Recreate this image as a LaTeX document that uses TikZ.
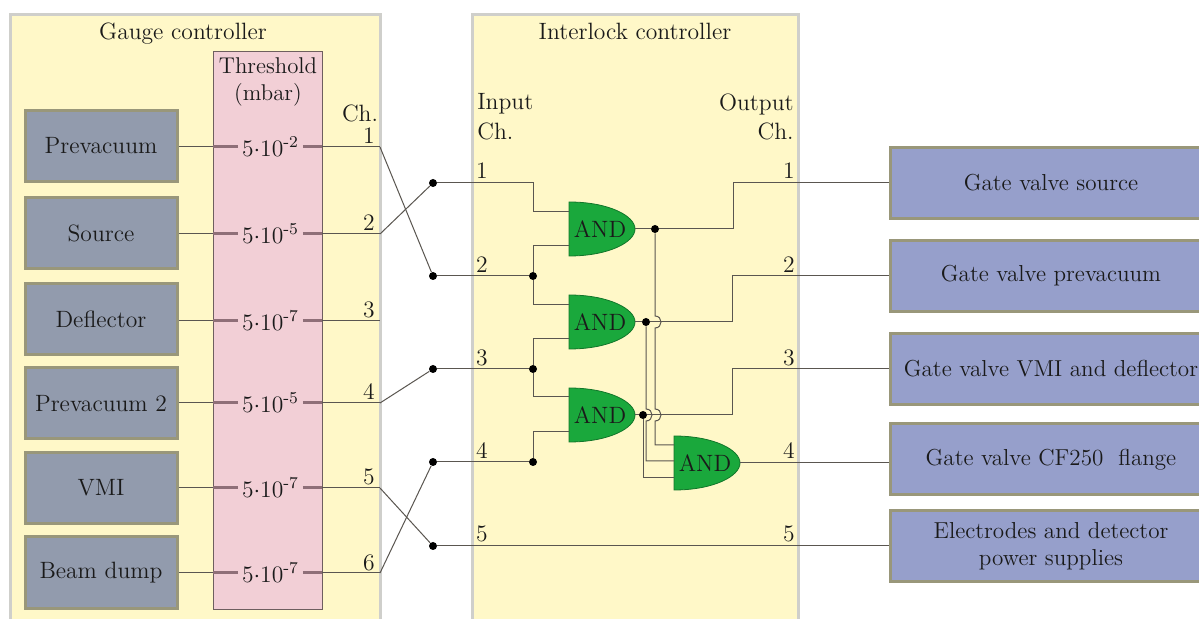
\documentclass[tikz,border=0pt]{standalone}
\definecolor{panelfill}{HTML}{FFF8C8}
\definecolor{panelline}{HTML}{CFCFCB}
\definecolor{pinkfill}{HTML}{F2CFD6}
\definecolor{pinkline}{HTML}{6E5F5F}
\definecolor{grayfill}{HTML}{929BAD}
\definecolor{grayline}{HTML}{99977A}
\definecolor{bluefill}{HTML}{969FCB}
\definecolor{gatefill}{HTML}{1AA83C}
\definecolor{wire}{HTML}{5A5650}
\definecolor{thickwire}{HTML}{8F6F78}
\definecolor{inkc}{HTML}{1A1A1A}
\tikzset{
  x=0.5pt,y=-0.5pt,
  every node/.style={font=\fontsize{11.8}{13.5}\selectfont,text=inkc},
  sensor/.style={draw=grayline,fill=grayfill,line width=1.5pt,minimum width=76pt,minimum height=35.5pt,inner sep=0pt},
  valve/.style={draw=grayline,fill=bluefill,line width=1.5pt,minimum width=161pt,minimum height=35.5pt,inner sep=0pt,align=center,font=\fontsize{11.55}{13.5}\selectfont},
  wireline/.style={draw=wire,line width=0.5pt},
  thickline/.style={draw=thickwire,line width=1.5pt},
  value/.style={inner sep=0pt,minimum width=32pt,minimum height=10pt},
  lbl/.style={inner sep=0pt},
  junction/.style={circle,fill=black,inner sep=0pt,minimum size=4pt},
  gate/.style={fill=gatefill,draw=gatefill!70!black,line width=0.4pt},
}
\newcommand{\andgate}[3]{% name, left x, centre y
  \path[gate] (#2,#3-27) .. controls (#2+40,#3-27) and (#2+66,#3-13) .. (#2+66,#3)
     .. controls (#2+66,#3+13) and (#2+40,#3+27) .. (#2,#3+27) -- cycle;
  \node[lbl] (#1) at (#2+31,#3) {AND};
  \coordinate (#1out) at (#2+66,#3);
}
\newcommand{\hop}[2]{.. controls (#1+8,#2-6) and (#1+8,#2+6) .. (#1,#2+6)}
\begin{document}
\begin{tikzpicture}
\useasboundingbox (0,0) rectangle (1199,619);
\clip (0,0) rectangle (1199,619);
\fill[white] (0,0) rectangle (1199,619);
% panels
\fill[panelfill] (10,15) rectangle (380,619);
\draw[panelline,line width=1.5pt] (10,625) -- (10,15) -- (380,15) -- (380,625);
\fill[panelfill] (472,15) rectangle (798,619);
\draw[panelline,line width=1.5pt] (472,625) -- (472,15) -- (798,15) -- (798,625);
\node[lbl,anchor=base] (gctitle) at (183,40) {Gauge controller};
\node[lbl,anchor=base] (ictitle) at (635,40) {Interlock controller};
% threshold
\node[draw=pinkline,fill=pinkfill,line width=0.5pt,minimum width=54.5pt,minimum height=278.5pt,inner sep=0pt] (thr) at (267.5,330.5) {};
\node[lbl,align=center,font=\fontsize{11.4}{13.5}\selectfont] (thrt) at (268,82) {Threshold\\(mbar)};
% sensors
\node[sensor] (b1) at (101,146) {Prevacuum};
\node[sensor] (b2) at (101,233.5) {Source};
\node[sensor] (b3) at (101,319) {Deflector};
\node[sensor] (b4) at (101,403.5) {Prevacuum 2};
\node[sensor] (b5) at (101,488) {VMI};
\node[sensor] (b6) at (101,572.5) {Beam dump};
% threshold values
\foreach \n/\y/\e in {1/147/2,2/234/5,3/321/7,4/403/5,5/488/7,6/573/7}{
  \node[value] (v\n) at (270.5,\y) {5$\cdot$10\textsuperscript{-\e}};
  \coordinate (tl\n) at (213,\y);
  \coordinate (tr\n) at (322,\y);
  \coordinate (c\n) at (380,\y);
  \draw[wireline] (b\n.east |- tl\n) -- (tl\n);
  \draw[thickline] (tl\n) -- (v\n.west);
  \draw[thickline] (v\n.east) -- (tr\n);
  \draw[wireline] (tr\n) -- (c\n);
}
\node[lbl] (chh) at (360,113) {Ch.};
\foreach \n/\y in {1/136,2/223,3/310,4/392,5/477,6/563}{
  \node[lbl] (cn\n) at (369,\y) {\n};
}
% interlock junctions
\node[junction] (d1) at (433,183) {};
\node[junction] (d2) at (433,276) {};
\node[junction] (d3) at (433,369) {};
\node[junction] (d4) at (433,462) {};
\node[junction] (d5) at (433,546) {};
\draw[wireline] (c1) -- (d2);
\draw[wireline] (c2) -- (d1);
\draw[wireline] (c4) -- (d3);
\draw[wireline] (c5) -- (d5);
\draw[wireline] (c6) -- (d4);
% gates
\andgate{g1}{569}{229}
\andgate{g2}{569}{322}
\andgate{g3}{569}{415}
\andgate{g4}{674}{463}
% input buses
\node[junction] (j2) at (533,276) {};
\node[junction] (j3) at (533,369) {};
\node[junction] (j4) at (533,462) {};
\coordinate (g1a) at (569,212);
\coordinate (g1b) at (569,246);
\coordinate (g2a) at (569,305);
\coordinate (g2b) at (569,339);
\coordinate (g3a) at (569,397);
\coordinate (g3b) at (569,432);
\coordinate (g4a) at (674,445);
\coordinate (g4b) at (674,461);
\coordinate (g4c) at (674,478);
\draw[wireline] (d1) -- (533,183) -- (533,212) -- (g1a);
\draw[wireline] (d2) -- (j2);
\draw[wireline] (g1b) -- (533,246) -- (j2) -- (533,305) -- (g2a);
\draw[wireline] (d3) -- (j3);
\draw[wireline] (g2b) -- (533,339) -- (j3) -- (533,397) -- (g3a);
\draw[wireline] (d4) -- (j4);
\draw[wireline] (g3b) -- (533,432) -- (j4);
% valves
\node[valve] (o1) at (1051,183) {Gate valve source};
\node[valve] (o2) at (1051,276) {Gate valve prevacuum};
\node[valve] (o3) at (1051,369) {Gate valve VMI and deflector};
\node[valve] (o4) at (1051,459.5) {Gate valve CF250\ \ flange};
\node[valve] (o5) at (1051,546) {Electrodes and detector\\power supplies};
% output wires
\node[junction] (k1) at (655,229) {};
\node[junction] (k2) at (646,322) {};
\node[junction] (k3) at (643,415) {};
\draw[wireline] (g1out) -- (k1) -- (733,229) -- (733,183) -- (o1.west);
\draw[wireline] (g2out) -- (k2) -- (732,322) -- (732,276) -- (o2.west);
\draw[wireline] (g3out) -- (k3) -- (732,415) -- (732,369) -- (o3.west);
\draw[wireline] (g4out) -- (o4.west |- g4out);
\draw[wireline] (d5) -- (o5.west);
% crossing wires that hop over
\draw[wireline] (k1) -- (655,316) \hop{655}{322} -- (655,409) \hop{655}{415} -- (655,445) -- (g4a);
\draw[wireline] (k2) -- (646,409) \hop{646}{415} -- (646,461) -- (g4b);
\draw[wireline] (k3) -- (643,478) -- (g4c);
% interlock labels
\node[lbl,anchor=west] (inh) at (477,104) {Input};
\node[lbl,anchor=west] (inc) at (477,131) {Ch.};
\node[lbl,anchor=east] (ouh) at (794,104) {Output};
\node[lbl,anchor=east] (ouc) at (794,131) {Ch.};
\foreach \n/\y in {1/171,2/265,3/358,4/451,5/534}{
  \node[lbl] (in\n) at (482,\y) {\n};
  \node[lbl] (on\n) at (789,\y) {\n};
}
\end{tikzpicture}
\end{document}
